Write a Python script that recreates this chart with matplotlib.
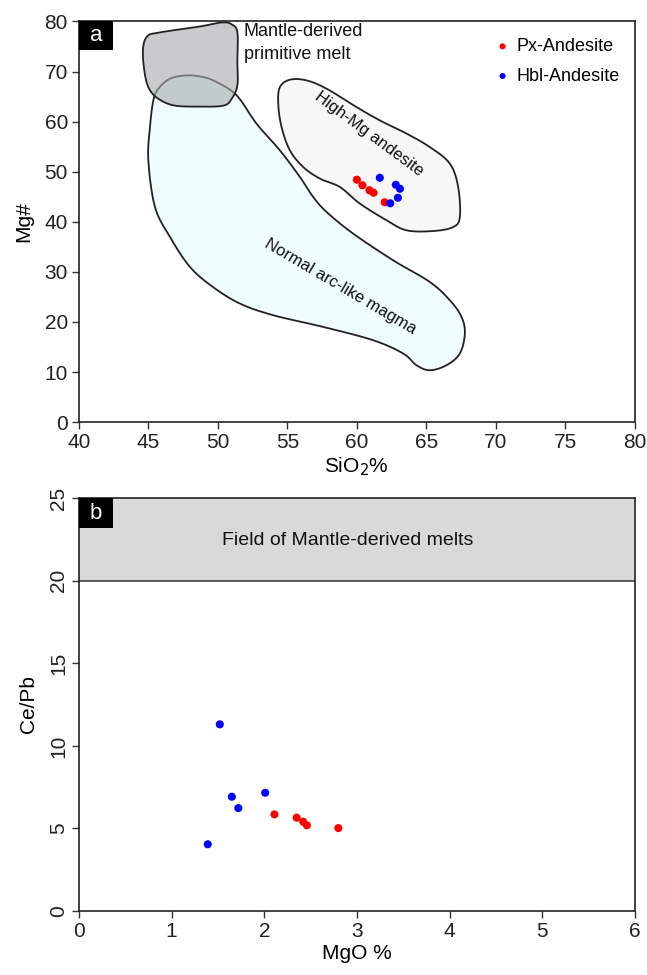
import numpy as np
import matplotlib
matplotlib.use("Agg")
import matplotlib.pyplot as plt
from matplotlib.patches import Polygon, Rectangle
from matplotlib import font_manager

# pick a narrow Arial-like face if it is there
names = {f.name for f in font_manager.fontManager.ttflist}
fam = "Liberation Sans Narrow" if "Liberation Sans Narrow" in names else "Liberation Sans"
plt.rcParams['font.family'] = [fam, 'DejaVu Sans']

# ---- panel a data: SiO2 vs Mg#
px_sio2 = [60.0, 60.4, 60.9, 61.2, 62.0]
px_mg = [48.4, 47.3, 46.3, 45.8, 43.9]
hbl_sio2 = [61.65, 62.8, 63.1, 62.95, 62.4]
hbl_mg = [48.8, 47.4, 46.6, 44.8, 43.7]

# ---- panel b data: MgO vs Ce/Pb
px_mgo = [2.11, 2.35, 2.42, 2.46, 2.80]
px_cepb = [5.85, 5.65, 5.41, 5.19, 5.02]
hbl_mgo = [1.52, 1.65, 1.72, 2.01, 1.39]
hbl_cepb = [11.3, 6.92, 6.23, 7.16, 4.04]

# field outlines (SiO2, Mg#)
mantle_field = [(44.9, 77.0), (45.8, 77.8), (48.7, 79.0), (50.3, 79.8), (51.0, 79.4),
                (51.4, 77.8), (51.4, 72.0), (51.4, 67.3), (51.0, 64.6), (50.4, 63.2),
                (48.7, 63.0), (46.9, 63.2), (45.8, 64.4), (45.1, 66.3), (44.75, 69.3),
                (44.6, 74.2)]
arc_field = [(45.35, 64.24), (45.11, 58.91), (44.99, 52.27), (45.47, 42.95), (46.55, 36.97),
             (47.99, 30.98), (49.64, 26.99), (51.58, 23.68), (53.98, 21.35), (57.58, 19.01),
             (61.17, 16.36), (63.33, 13.71), (64.29, 11.37), (65.25, 10.37), (66.45, 11.37),
             (67.41, 13.71), (67.77, 17.70), (67.53, 21.01), (66.69, 24.34), (65.25, 27.99),
             (62.61, 32.32), (59.73, 37.65), (57.82, 41.96), (56.86, 44.95), (55.90, 48.94),
             (54.46, 54.26), (52.78, 59.59), (51.35, 65.24), (49.91, 67.89), (48.94, 68.89),
             (47.75, 69.23), (46.55, 68.57), (45.71, 66.57)]
hmg_field = [(54.46, 66.89), (55.18, 68.37), (56.38, 68.23), (57.82, 66.57), (59.98, 62.90),
             (61.65, 60.25), (63.58, 57.60), (65.25, 54.92), (66.69, 51.61), (67.29, 46.94),
             (67.41, 40.96), (66.93, 38.96), (65.49, 38.16), (63.58, 38.30), (62.14, 40.30),
             (60.22, 43.63), (58.78, 46.94), (57.34, 48.62), (56.14, 50.93), (55.18, 54.26),
             (54.58, 58.91), (54.34, 63.58)]
mantle_cepb = (20, 25)


def smooth(pts, n=12):
    # closed catmull-rom so the outlines look hand drawn
    p = np.array(pts)
    out = []
    m = len(p)
    for i in range(m):
        p0, p1, p2, p3 = p[i - 1], p[i], p[(i + 1) % m], p[(i + 2) % m]
        for t in np.linspace(0, 1, n, endpoint=False):
            t2, t3 = t * t, t * t * t
            out.append(0.5 * ((2 * p1) + (-p0 + p2) * t + (2 * p0 - 5 * p1 + 4 * p2 - p3) * t2
                              + (-p0 + 3 * p1 - 3 * p2 + p3) * t3))
    return np.array(out)


def panel_tag(ax, letter, w, h):
    # black corner box with the panel letter
    ax.add_patch(Rectangle((0, 1 - h), w, h, transform=ax.transAxes, facecolor='black',
                           edgecolor='none', zorder=6, clip_on=False))
    ax.text(w / 2, 1 - h / 2, letter, transform=ax.transAxes, fontsize=16, color='white',
            ha='center', va='center', zorder=7)


fig = plt.figure(figsize=(6.47, 9.75), dpi=100)
ax1 = fig.add_axes([0.1221, 0.567, 0.859, 0.411])
ax2 = fig.add_axes([0.1221, 0.0656, 0.859, 0.4236])

fs = 15
for ax in (ax1, ax2):
    for s in ax.spines.values():
        s.set_linewidth(1.2)
        s.set_color('#222222')
    ax.tick_params(direction='out', length=5, width=1.0, color='#333333',
                   labelsize=fs, labelcolor='#222222', pad=3)

# ---- panel a
ax1.add_patch(Polygon(smooth(arc_field), closed=True, facecolor='#effefd',
                      edgecolor='#222222', lw=1.3, zorder=1))
ax1.add_patch(Polygon(smooth(hmg_field), closed=True, facecolor='#f6f7f6',
                      edgecolor='#222222', lw=1.3, zorder=1))
ax1.add_patch(Polygon(smooth(mantle_field), closed=True, facecolor='#a9aaac', alpha=0.62,
                      edgecolor='none', zorder=2))
ax1.add_patch(Polygon(smooth(mantle_field), closed=True, facecolor='none',
                      edgecolor='#222222', lw=1.3, zorder=2))

ax1.scatter(px_sio2, px_mg, s=34, color='#ff0000', edgecolors='none', zorder=3, label='Px-Andesite')
ax1.scatter(hbl_sio2, hbl_mg, s=34, color='#0000ff', edgecolors='none', zorder=3, label='Hbl-Andesite')

ax1.text(51.85, 79.6, 'Mantle-derived\nprimitive melt', fontsize=13, va='top', ha='left',
         color='#111111', linespacing=1.45)
ax1.text(60.9, 57.6, 'High-Mg andesite', fontsize=12, rotation=-36.5, ha='center',
         va='center', rotation_mode='anchor', color='#111111')
ax1.text(58.8, 27.0, 'Normal arc-like magma', fontsize=12, rotation=-30.5, ha='center',
         va='center', rotation_mode='anchor', color='#111111')

ax1.legend(loc='upper right', bbox_to_anchor=(0.995, 0.99), frameon=False, fontsize=13,
           markerscale=0.75, handlelength=0.8, handletextpad=0.35, labelspacing=0.7,
           borderaxespad=0.3)

ax1.set_xlim(40, 80)
ax1.set_ylim(0, 80)
ax1.set_xticks(np.arange(40, 81, 5))
ax1.set_yticks(np.arange(0, 81, 10))
ax1.set_xlabel('SiO$_2$%', fontsize=fs, labelpad=2)
ax1.set_ylabel('Mg#', fontsize=fs, labelpad=8)
panel_tag(ax1, 'a', 0.061, 0.072)

# ---- panel b
ax2.axhspan(mantle_cepb[0], mantle_cepb[1], facecolor='#d9d9d9', edgecolor='none', zorder=0)
ax2.axhline(mantle_cepb[0], color='#444444', lw=1.2, zorder=1)
ax2.text(2.9, 22.45, 'Field of Mantle-derived melts', fontsize=14, ha='center', va='center',
         color='#111111')
ax2.scatter(px_mgo, px_cepb, s=34, color='#ff0000', edgecolors='none', zorder=3)
ax2.scatter(hbl_mgo, hbl_cepb, s=34, color='#0000ff', edgecolors='none', zorder=3)

ax2.set_xlim(0, 6)
ax2.set_ylim(0, 25)
ax2.set_xticks(range(0, 7))
ax2.set_yticks(range(0, 26, 5))
for lab in ax2.get_yticklabels():
    lab.set_rotation(90)
    lab.set_va('center')
ax2.set_xlabel('MgO %', fontsize=fs, labelpad=2)
ax2.set_ylabel('Ce/Pb', fontsize=fs, labelpad=8)
panel_tag(ax2, 'b', 0.061, 0.073)

fig.savefig('out.png', dpi=100)
